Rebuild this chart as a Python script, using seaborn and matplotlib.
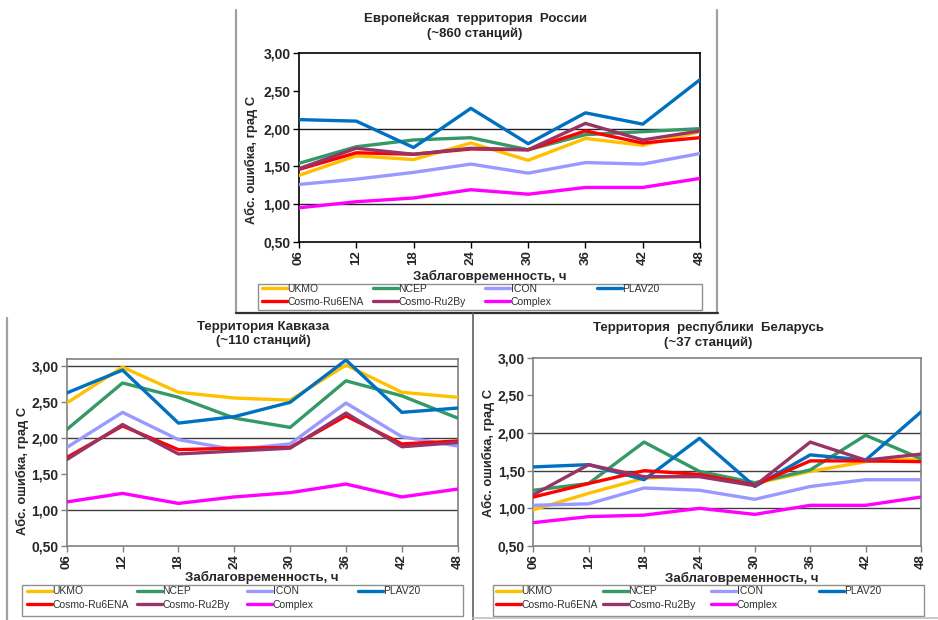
import matplotlib
matplotlib.use("Agg")
import matplotlib.pyplot as plt
from matplotlib.lines import Line2D
from matplotlib.patches import Rectangle
from matplotlib.ticker import FixedLocator, FuncFormatter
import numpy as np
import pandas as pd
import seaborn as sns

# ---- data -------------------------------------------------------------
leads = [6, 12, 18, 24, 30, 36, 42, 48]
lead_labels = ["06", "12", "18", "24", "30", "36", "42", "48"]
models = ["UKMO", "NCEP", "ICON", "PLAV20", "Cosmo-Ru6ENA", "Cosmo-Ru2By", "Complex"]

# European Russia (~860 stations)
eur_ukmo = [1.38, 1.64, 1.59, 1.81, 1.58, 1.87, 1.78, 1.96]
eur_ncep = [1.54, 1.76, 1.85, 1.88, 1.72, 1.92, 1.96, 2.00]
eur_icon = [1.26, 1.33, 1.42, 1.53, 1.41, 1.55, 1.53, 1.67]
eur_plav = [2.12, 2.10, 1.75, 2.27, 1.80, 2.21, 2.06, 2.65]
eur_c6ena = [1.46, 1.68, 1.66, 1.73, 1.72, 1.97, 1.81, 1.88]
eur_c2by = [1.47, 1.74, 1.66, 1.74, 1.72, 2.07, 1.85, 1.97]
eur_complex = [0.95, 1.03, 1.08, 1.19, 1.13, 1.22, 1.22, 1.34]

# Caucasus (~110 stations)
cau_ukmo = [2.49, 2.99, 2.64, 2.56, 2.53, 3.02, 2.64, 2.57]
cau_ncep = [2.12, 2.77, 2.57, 2.28, 2.15, 2.80, 2.59, 2.28]
cau_icon = [1.87, 2.36, 1.98, 1.84, 1.92, 2.49, 2.02, 1.89]
cau_plav = [2.63, 2.95, 2.21, 2.30, 2.50, 3.09, 2.36, 2.42]
cau_c6ena = [1.73, 2.17, 1.84, 1.86, 1.87, 2.31, 1.92, 1.96]
cau_c2by = [1.70, 2.19, 1.78, 1.82, 1.86, 2.35, 1.88, 1.94]
cau_complex = [1.11, 1.23, 1.09, 1.18, 1.24, 1.36, 1.18, 1.29]

# Belarus (~37 stations)
bel_ukmo = [0.98, 1.20, 1.40, 1.44, 1.33, 1.49, 1.62, 1.66]
bel_ncep = [1.24, 1.33, 1.88, 1.49, 1.34, 1.51, 1.97, 1.66]
bel_icon = [1.04, 1.06, 1.27, 1.24, 1.12, 1.29, 1.38, 1.38]
bel_plav = [1.55, 1.58, 1.38, 1.93, 1.29, 1.71, 1.64, 2.28]
bel_c6ena = [1.15, 1.33, 1.50, 1.45, 1.31, 1.63, 1.63, 1.62]
bel_c2by = [1.18, 1.58, 1.42, 1.42, 1.30, 1.88, 1.64, 1.72]
bel_complex = [0.81, 0.89, 0.91, 1.00, 0.92, 1.04, 1.04, 1.15]

y_ticks = [0.5, 1.0, 1.5, 2.0, 2.5, 3.0]

palette = {
    "UKMO": "#FFC000",
    "NCEP": "#339966",
    "ICON": "#9999FF",
    "PLAV20": "#0070C0",
    "Cosmo-Ru6ENA": "#FF0000",
    "Cosmo-Ru2By": "#993366",
    "Complex": "#FF00FF",
}

# legend columns: first row UKMO/NCEP/ICON/PLAV20, second row the rest
legend_columns = [["UKMO", "Cosmo-Ru6ENA"], ["NCEP", "Cosmo-Ru2By"],
                  ["ICON", "Complex"], ["PLAV20"]]


def long_frame(series):
    rows = []
    for name, vals in zip(models, series):
        for h, v in zip(leads, vals):
            rows.append({"lead": h, "model": name, "mae": v})
    return pd.DataFrame(rows)


panels = [
    dict(
        title="Европейская  территория  России\n(~860 станций)",
        data=long_frame([eur_ukmo, eur_ncep, eur_icon, eur_plav, eur_c6ena, eur_c2by, eur_complex]),
        box=(299, 53.3, 700, 241.7), ylim=(0.5, 3.0), grid=[1.0, 2.0],
        spine="#000000", title_xy=(475, 26), ylabel_xy=(251, 160), xlabel_xy=(490, 276),
        legend_box=(258, 284, 702, 310), legend_cols=[262, 373, 485, 597], legend_row1=290,
    ),
    dict(
        title="Территория Кавказа\n(~110 станций)",
        data=long_frame([cau_ukmo, cau_ncep, cau_icon, cau_plav, cau_c6ena, cau_c2by, cau_complex]),
        box=(66.7, 359.3, 457.7, 545.7), ylim=(0.5, 3.1), grid=[1.0, 2.0, 3.0],
        spine="#808080", title_xy=(263, 334), ylabel_xy=(22, 471), xlabel_xy=(262, 577),
        legend_box=(22, 585, 463, 616), legend_cols=[27, 137, 247, 358], legend_row1=593,
    ),
    dict(
        title="Территория  республики  Беларусь\n(~37 станций)",
        data=long_frame([bel_ukmo, bel_ncep, bel_icon, bel_plav, bel_c6ena, bel_c2by, bel_complex]),
        box=(533.3, 357.7, 921, 546), ylim=(0.5, 3.0), grid=[1.0, 1.5, 2.0],
        spine="#808080", title_xy=(708, 335), ylabel_xy=(488, 453), xlabel_xy=(742, 578),
        legend_box=(493, 585, 924, 616), legend_cols=[496, 603, 711, 819], legend_row1=593,
    ),
]

sns.set_style("white")
plt.rcParams["font.family"] = ["Liberation Sans", "DejaVu Sans"]

W, H = 938, 620
fig = plt.figure(figsize=(W / 100, H / 100), dpi=100)
fig.patch.set_facecolor("white")


def fx(x):
    return x / W


def fy(y):
    return 1 - y / H


def fig_line(xs, ys, color, lw):
    fig.add_artist(Line2D([fx(x) for x in xs], [fy(y) for y in ys],
                          color=color, lw=lw, transform=fig.transFigure))


# panel frames
fig_line([236, 236], [10, 313], "#A0A0A0", 1.6)
fig_line([717, 717], [10, 313], "#A0A0A0", 1.6)
fig_line([236, 718], [313, 313], "#303030", 1.6)
fig_line([7, 7], [318, 620], "#A0A0A0", 1.6)
fig_line([473, 473], [313, 620], "#606060", 1.2)
fig_line([473, 938], [618, 618], "#C0C0C0", 1.2)

for p in panels:
    x0, y0, x1, y1 = p["box"]
    ax = fig.add_axes([fx(x0), fy(y1), fx(x1) - fx(x0), fy(y0) - fy(y1)])
    for g in p["grid"]:
        ax.axhline(g, color="#202020" if p["spine"] == "#000000" else "#404040",
                   lw=1.0, zorder=0)
    sns.lineplot(data=p["data"], x="lead", y="mae", hue="model", hue_order=models,
                 palette=palette, lw=2.4, ax=ax, legend=False, zorder=3)
    ax.set_xlim(6, 48)
    ax.set_ylim(*p["ylim"])
    ax.xaxis.set_major_locator(FixedLocator(leads))
    ax.set_xticklabels(lead_labels, rotation=90, fontsize=9.5, fontweight="bold")
    ax.yaxis.set_major_locator(FixedLocator(y_ticks))
    ax.yaxis.set_major_formatter(FuncFormatter(lambda v, _: f"{v:.2f}".replace(".", ",")))
    for t in ax.get_yticklabels():
        t.set_fontsize(10)
        t.set_fontweight("bold")
    ax.tick_params(axis="both", direction="out", length=4, width=1,
                   color=p["spine"], pad=2)
    ax.tick_params(axis="x", bottom=True)
    ax.tick_params(axis="y", left=True)
    for s in ax.spines.values():
        s.set_visible(True)
        s.set_color(p["spine"])
        s.set_linewidth(1.2)
    ax.set_xlabel("")
    ax.set_ylabel("")

    tx, ty = p["title_xy"]
    fig.text(fx(tx), fy(ty), p["title"], ha="center", va="center",
             fontsize=9.5, fontweight="bold", linespacing=1.25)
    yx, yy = p["ylabel_xy"]
    fig.text(fx(yx), fy(yy), "Абс. ошибка, град С",
             rotation=90, ha="center", va="center", fontsize=9.3, fontweight="bold")
    xx, xy = p["xlabel_xy"]
    fig.text(fx(xx), fy(xy), "Заблаговременность, ч",
             ha="center", va="center", fontsize=9.5, fontweight="bold")

    # legend frame and one legend block per column
    lx0, ly0, lx1, ly1 = p["legend_box"]
    fig.add_artist(Rectangle((fx(lx0), fy(ly1)), fx(lx1) - fx(lx0), fy(ly0) - fy(ly1),
                             transform=fig.transFigure, fill=False,
                             edgecolor="#909090", lw=1.0))
    for cx, names in zip(p["legend_cols"], legend_columns):
        handles = [Line2D([], [], color=palette[m], lw=2.4) for m in names]
        leg = fig.legend(handles, names, loc="upper left",
                         bbox_to_anchor=(fx(cx), fy(p["legend_row1"] - 6.5)),
                         bbox_transform=fig.transFigure, fontsize=7.5, frameon=False,
                         borderaxespad=0, borderpad=0, handlelength=2.4,
                         handletextpad=0.05, labelspacing=0.32)
        for t in leg.get_texts():
            t.set_color("#303030")

fig.savefig("out.png", dpi=100, facecolor="white")
